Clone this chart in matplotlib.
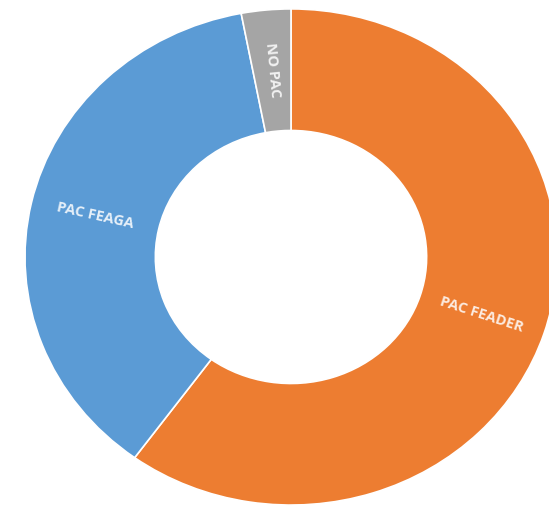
import numpy as np
import matplotlib
matplotlib.use("Agg")
import matplotlib.pyplot as plt

# shares of the three groups
labels = ["PAC FEADER", "PAC FEAGA", "NO PAC"]
shares = [60, 37, 3]
colors = ["#ED7D31", "#5B9BD5", "#A5A5A5"]

fig = plt.figure(figsize=(5.49, 5.11), dpi=100)
ax = fig.add_axes([0, 0, 1, 1])

wedges, _ = ax.pie(shares, colors=colors, startangle=90, counterclock=False,
                   radius=1.0,
                   wedgeprops=dict(width=0.49, edgecolor="white", linewidth=1.2))

# labels sit in the middle of the ring, turned along the radius
for w, lab in zip(wedges, labels):
    ang = (w.theta1 + w.theta2) / 2
    r = 0.755
    x = r * np.cos(np.radians(ang))
    y = r * np.sin(np.radians(ang))
    rot = ang if -90 <= ang <= 90 else ang - 180
    if rot > 90:
        rot -= 180
    ax.text(x, y, lab, ha="center", va="center", rotation=rot,
            rotation_mode="anchor", color="white", alpha=0.85, fontsize=10.5,
            fontweight="bold", family=["Open Sans", "DejaVu Sans"])

# the source picture is a bit wider than tall
ax.set_aspect("auto")
ax.set_xlim(-1.094, 0.970)
ax.set_ylim(-1.024, 1.036)
ax.axis("off")

fig.savefig("out.png", dpi=100, facecolor="white")
